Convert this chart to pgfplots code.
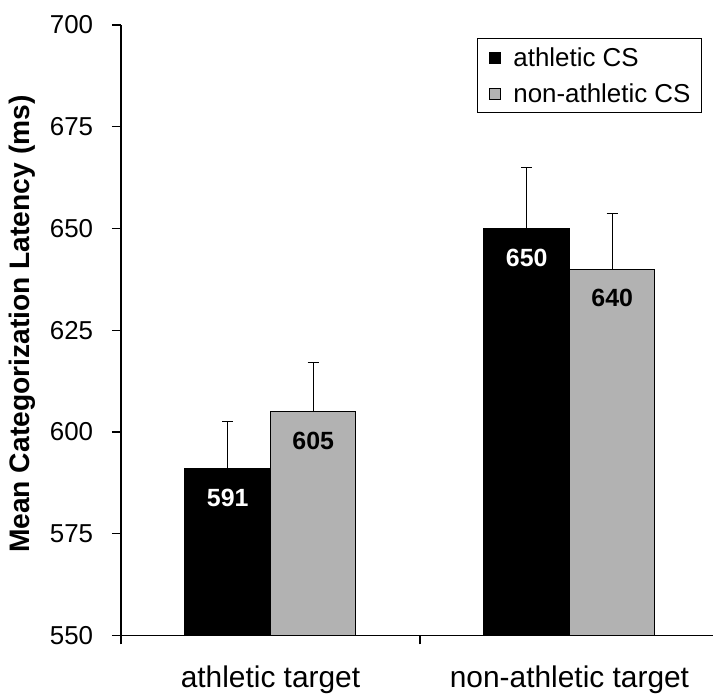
\documentclass[border=0pt]{standalone}
\usepackage{fontspec}
\setmainfont{Liberation Sans}
\usepackage{pgfplots}
\pgfplotsset{compat=1.18}
\definecolor{barGray}{RGB}{178,178,178}
\begin{document}
\begin{tikzpicture}
\begin{axis}[
  at={(0,0)}, anchor=south west,
  scale only axis, width=592bp, height=610.5bp,
  xmin=-0.5, xmax=1.48, ymin=550, ymax=700,
  ybar=0pt, bar width=85.5bp,
  axis lines*=left,
  axis line style={line width=1.2bp},
  /pgf/number format/assume math mode=true,
  ytick={550,575,...,700},
  xtick={-0.5,0.5}, xticklabels={},
  extra x ticks={0,1},
  extra x tick labels={athletic target, non-athletic target},
  extra x tick style={major tick length=0pt, xticklabel style={anchor=north, inner sep=0pt, yshift=-30bp, font=\fontsize{30}{30}\selectfont}},
  tick align=outside,
  major tick length=9bp,
  tick style={line width=1.2bp, black},
  yticklabel style={anchor=east, inner sep=0pt, xshift=-18.7bp, font=\fontsize{26}{26}\selectfont},
  every axis y label/.style={at={(axis description cs:-0.1672,0.51)}, rotate=90, anchor=center},
  ylabel={Mean Categorization Latency (ms)},
  ylabel style={font=\bfseries\fontsize{28.3}{28.3}\selectfont},
  legend cell align=left,
  legend style={at={(1,1)}, anchor=north east, xshift=-11bp, yshift=-13bp,
    draw=black, line width=1bp, font=\fontsize{26}{26}\selectfont,
    inner xsep=11bp, inner ysep=8bp, row sep=14bp, column sep=13bp,
    nodes={inner sep=0pt, text height=20bp, text depth=2bp}},
]
\addplot[fill=black, draw=black, line width=1bp,
  legend image code/.code={\draw[fill=black, draw=black, line width=0.6bp] (0bp,-5.5bp) rectangle (11bp,5.5bp);},
  nodes near coords,
  every node near coord/.append style={text=white, font=\bfseries\fontsize{25}{25}\selectfont, anchor=center, yshift=-29bp},
  error bars/.cd, y dir=plus, y explicit,
  error bar style={line width=1bp, black},
  error mark options={rotate=90, mark size=5.5bp, line width=1.2bp, black}]
  coordinates {(0,591) +- (0,11.6) (1,650) +- (0,15)};
\addplot[fill=barGray, draw=black, line width=1bp,
  legend image code/.code={\draw[fill=barGray, draw=black, line width=0.6bp] (0bp,-5.5bp) rectangle (11bp,5.5bp);},
  nodes near coords,
  every node near coord/.append style={text=black, font=\bfseries\fontsize{25}{25}\selectfont, anchor=center, yshift=-29bp},
  error bars/.cd, y dir=plus, y explicit,
  error bar style={line width=1bp, black},
  error mark options={rotate=90, mark size=5.5bp, line width=1.2bp, black}]
  coordinates {(0,605) +- (0,12) (1,640) +- (0,13.6)};
\legend{athletic CS, non-athletic CS}
\end{axis}
\pgfresetboundingbox
\path (-121bp,-58.5bp) rectangle (592bp,635.5bp);
\end{tikzpicture}
\end{document}
